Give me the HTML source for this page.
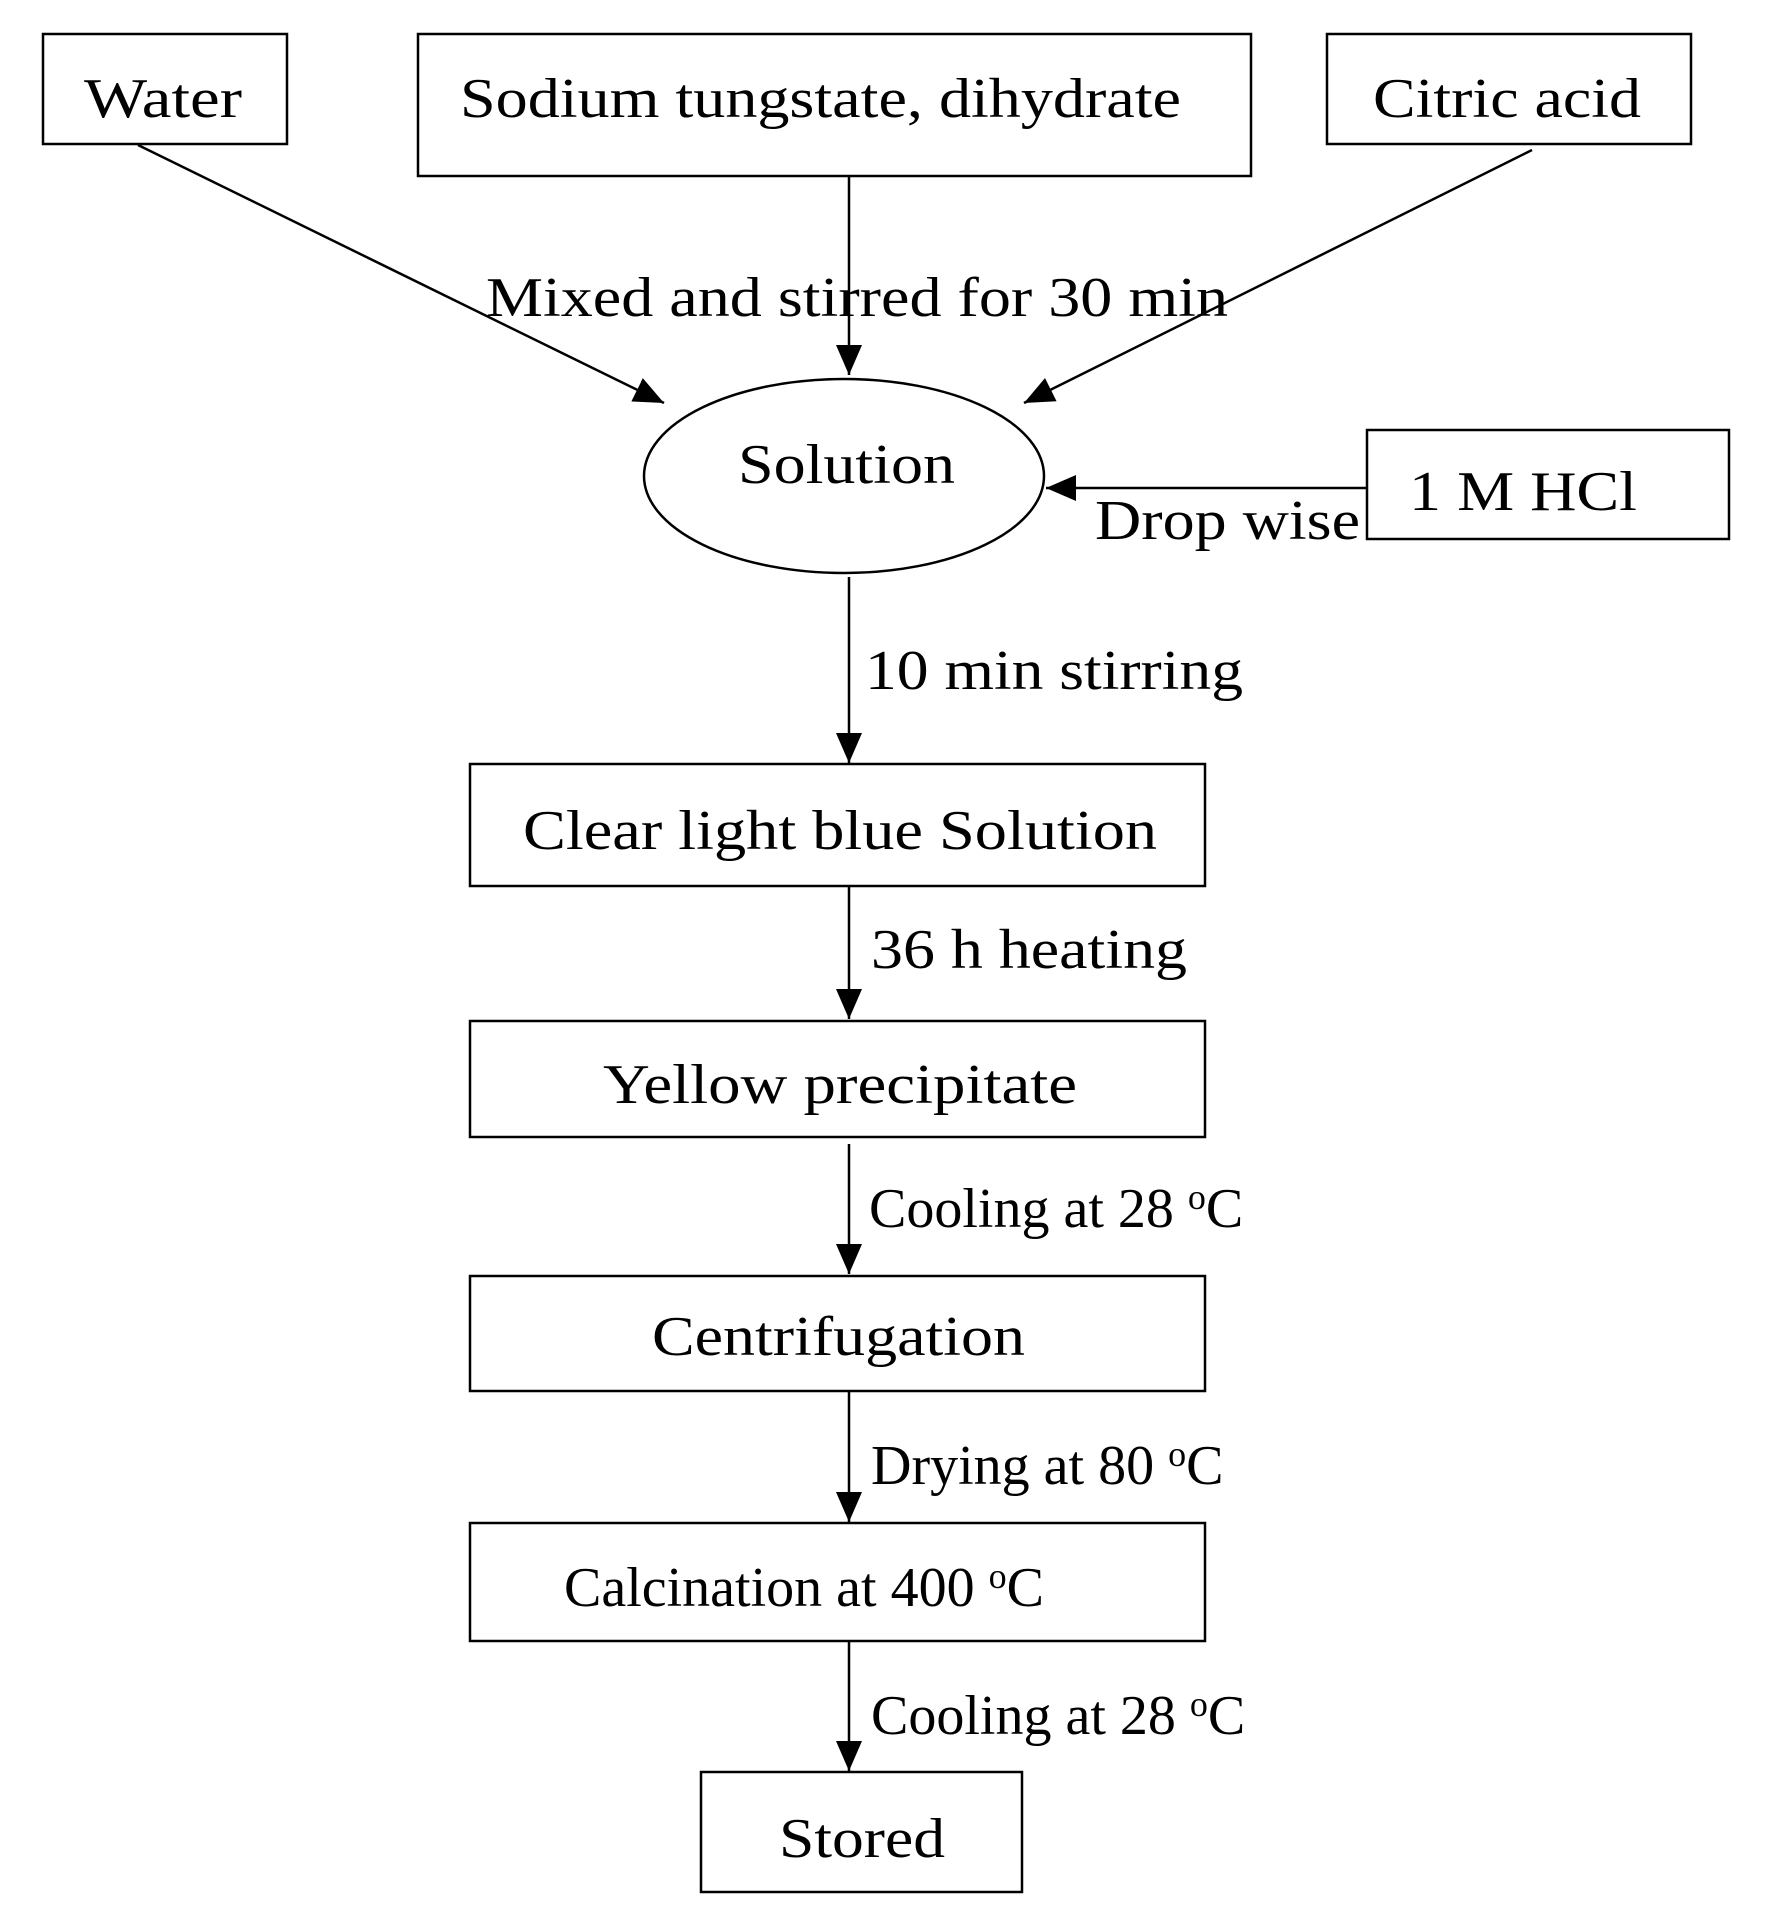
<!DOCTYPE html>
<html><head><meta charset="utf-8"><style>html,body{margin:0;padding:0;background:#fff}svg{display:block}</style></head>
<body>
<svg width="1772" height="1928" viewBox="0 0 1772 1928" xmlns="http://www.w3.org/2000/svg">
<defs><marker id="a" markerWidth="10" markerHeight="8" refX="10" refY="4" orient="auto" markerUnits="userSpaceOnUse" viewBox="0 0 10 8"><path d="M0,0 L10,4 L0,8z" fill="#000"/></marker>
<marker id="b" markerWidth="30" markerHeight="26" refX="30" refY="13" orient="auto" markerUnits="userSpaceOnUse"><path d="M0,0 L30,13 L0,26z" fill="#000"/></marker></defs>
<g fill="none" stroke="#000" stroke-width="2.5">
<rect x="43" y="34" width="244" height="110"/>
<rect x="418" y="34" width="833" height="142"/>
<rect x="1327" y="34" width="364" height="110"/>
<ellipse cx="844" cy="476" rx="200" ry="97"/>
<rect x="1367" y="430" width="362" height="109"/>
<rect x="470" y="764" width="735" height="122"/>
<rect x="470" y="1021" width="735" height="116"/>
<rect x="470" y="1276" width="735" height="115"/>
<rect x="470" y="1523" width="735" height="118"/>
<rect x="701" y="1772" width="321" height="120"/>
<g marker-end="url(#b)">
<line x1="138" y1="145" x2="664" y2="403"/>
<line x1="1532" y1="150" x2="1024" y2="403"/>
<line x1="849" y1="176" x2="849" y2="375"/>
<line x1="1367" y1="488" x2="1046" y2="488"/>
<line x1="849" y1="577" x2="849" y2="763"/>
<line x1="849" y1="886" x2="849" y2="1019"/>
<line x1="849" y1="1144" x2="849" y2="1274"/>
<line x1="849" y1="1391" x2="849" y2="1522"/>
<line x1="849" y1="1641" x2="849" y2="1771"/>
</g></g>
<g font-family="Liberation Serif, serif" font-size="56" fill="#000" lengthAdjust="spacingAndGlyphs">
<text x="84" y="117" textLength="158" lengthAdjust="spacingAndGlyphs">Water</text>
<text x="460" y="117" textLength="721" lengthAdjust="spacingAndGlyphs">Sodium tungstate, dihydrate</text>
<text x="1373" y="117" textLength="268" lengthAdjust="spacingAndGlyphs">Citric acid</text>
<text x="486" y="316" textLength="742" lengthAdjust="spacingAndGlyphs">Mixed and stirred for 30 min</text>
<text x="738" y="483" textLength="217" lengthAdjust="spacingAndGlyphs">Solution</text>
<text x="1095" y="539" textLength="265" lengthAdjust="spacingAndGlyphs">Drop wise</text>
<text x="1409" y="510" textLength="228" lengthAdjust="spacingAndGlyphs">1 M HCl</text>
<text x="865" y="689" textLength="378" lengthAdjust="spacingAndGlyphs">10 min stirring</text>
<text x="523" y="849" textLength="634" lengthAdjust="spacingAndGlyphs">Clear light blue Solution</text>
<text x="871" y="968" textLength="316" lengthAdjust="spacingAndGlyphs">36 h heating</text>
<text x="603" y="1103" textLength="474" lengthAdjust="spacingAndGlyphs">Yellow precipitate</text>
<text x="869" y="1227">Cooling at 28 <tspan font-size="36" dy="-18">o</tspan><tspan dy="18">C</tspan></text>
<text x="652" y="1355" textLength="373" lengthAdjust="spacingAndGlyphs">Centrifugation</text>
<text x="871" y="1484">Drying at 80 <tspan font-size="36" dy="-18">o</tspan><tspan dy="18">C</tspan></text>
<text x="564" y="1606">Calcination at 400 <tspan font-size="36" dy="-18">o</tspan><tspan dy="18">C</tspan></text>
<text x="871" y="1734">Cooling at 28 <tspan font-size="36" dy="-18">o</tspan><tspan dy="18">C</tspan></text>
<text x="779" y="1857" textLength="166" lengthAdjust="spacingAndGlyphs">Stored</text>
</g>
</svg>
</body></html>
